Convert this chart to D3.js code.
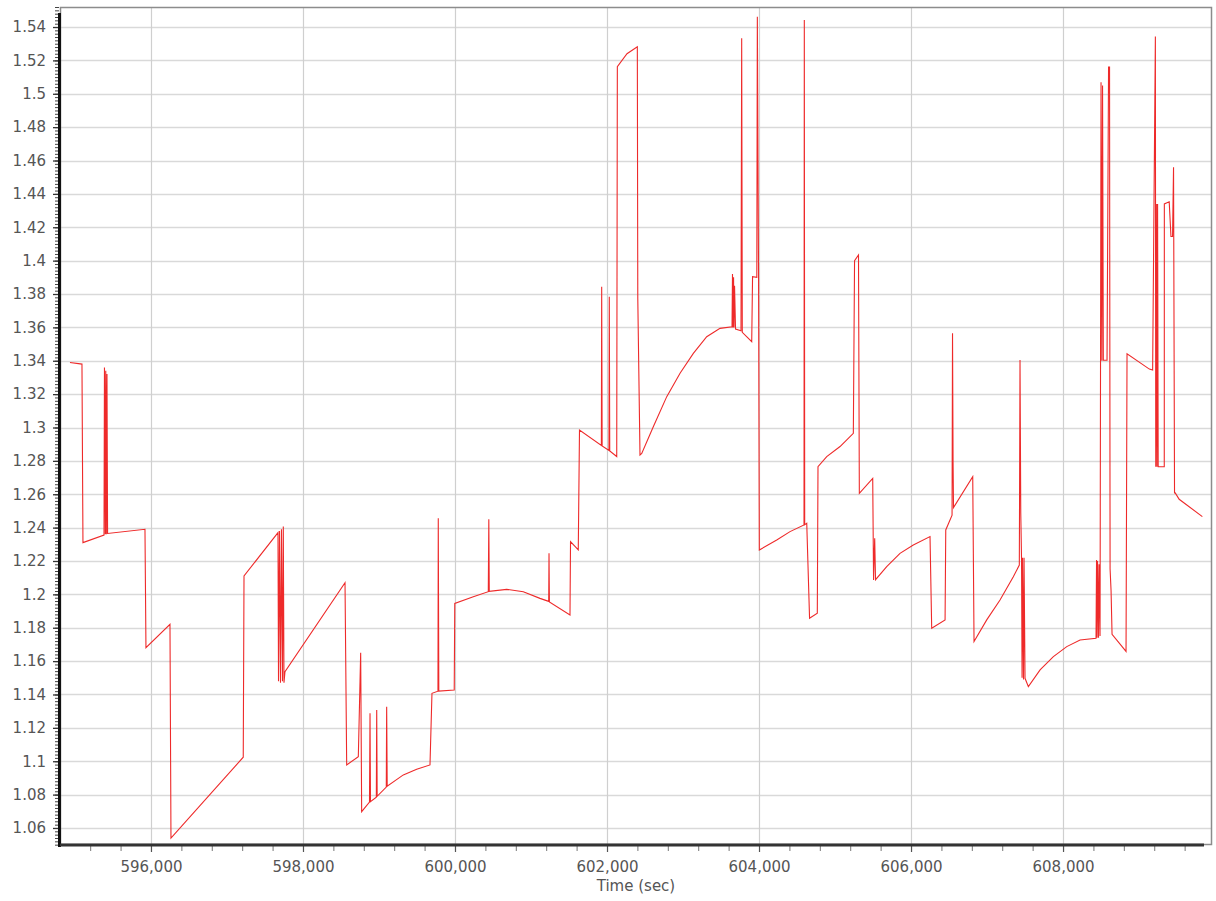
<!DOCTYPE html>
<html><head><meta charset="utf-8">
<script src="https://cdn.jsdelivr.net/npm/d3@7"></script>
<style>
body{margin:0;background:#fff;}
svg{display:block;}
text{font-family:"DejaVu Sans",Verdana,sans-serif;}
</style>
</head><body>
<svg id="chart" width="1216" height="901"></svg>
<script>
// ---- data ----
const timeSec = [
594934,595092,595105,595382,595388,595399,595405,595413,595421,595429,595921,595934,596250,596263,
597214,597224,597671,597678,597691,597704,597717,597730,597741,597750,597763,598553,598575,598728,
598759,598772,598875,598882,598888,598965,598970,598976,599096,599101,599108,599320,599496,599671,
599697,599776,599780,599787,599990,599997,600241,600438,600445,600451,600680,600899,601118,601233,
601237,601242,601513,601520,601622,601638,601926,601930,601936,602026,602030,602036,602128,602136,
602263,602399,602405,602434,602457,602609,602786,602961,603136,603312,603487,603645,603651,603658,
603665,603671,603678,603691,603763,603772,603780,603904,603915,603971,603978,603994,604004,604233,
604408,604592,604596,604601,604628,604665,604767,604776,604891,605066,605241,605257,605309,605320,
605496,605507,605522,605533,605680,605855,606030,606250,606272,606448,606457,606540,606546,606553,
606559,606812,606829,606996,607171,607346,607425,607434,607444,607454,607461,607467,607480,607487,
607500,607544,607698,607873,608049,608224,608434,608441,608448,608454,608467,608474,608487,608500,
608511,608520,608530,608579,608599,608612,608619,608632,608645,608829,608842,609136,609179,609215,
609220,609228,609236,609244,609252,609332,609333,609397,609420,609441,609454,609467,609476,609528,
609833];
const value = [
1.339,1.338,1.231,1.2355,1.336,1.236,1.334,1.236,1.332,1.2365,1.239,1.168,1.182,1.054,
1.1024,1.211,1.237,1.148,1.238,1.147,1.239,1.148,1.2406,1.147,1.1537,1.207,1.0978,1.1027,
1.165,1.0698,1.0755,1.1287,1.0758,1.0785,1.1307,1.079,1.0845,1.1327,1.085,1.0918,1.0952,1.0978,
1.1407,1.142,1.2456,1.142,1.1427,1.1946,1.1986,1.2016,1.245,1.2018,1.203,1.2016,1.1976,1.1958,
1.2246,1.1955,1.1877,1.2316,1.2266,1.2985,1.2892,1.3844,1.289,1.2862,1.3784,1.286,1.2826,1.5162,
1.524,1.5282,1.3774,1.2835,1.2845,1.3005,1.3185,1.3325,1.3444,1.3544,1.3594,1.3603,1.392,1.36,
1.39,1.36,1.385,1.359,1.358,1.5332,1.357,1.3514,1.3904,1.39,1.5462,1.3904,1.2266,1.2326,
1.2376,1.2416,1.5442,1.2418,1.2426,1.1857,1.1887,1.2765,1.2826,1.2886,1.2965,1.4,1.4034,1.2606,
1.2695,1.2086,1.2336,1.2088,1.2166,1.2246,1.2296,1.2346,1.1797,1.1846,1.2386,1.2475,1.3565,1.28,
1.252,1.2705,1.1717,1.1847,1.1966,1.2106,1.2176,1.3404,1.2488,1.2216,1.15,1.222,1.149,1.222,
1.1497,1.1447,1.1547,1.1627,1.1687,1.1727,1.1737,1.2206,1.174,1.22,1.174,1.218,1.175,1.5069,
1.34,1.505,1.3403,1.3403,1.516,1.516,1.2153,1.2022,1.176,1.1658,1.3442,1.335,1.3345,1.5343,
1.2765,1.434,1.2765,1.434,1.2765,1.2765,1.434,1.4353,1.4145,1.4145,1.456,1.2608,1.2608,1.257,
1.2466];
const xTickValues = [596000,598000,600000,602000,604000,606000,608000];
const yTickValues = [1.06,1.08,1.1,1.12,1.14,1.16,1.18,1.2,1.22,1.24,1.26,1.28,1.3,1.32,1.34,1.36,1.38,1.4,1.42,1.44,1.46,1.48,1.5,1.52,1.54];
const xAxisTitle = "Time (sec)";
const xDomain = [594803, 609960];
const yDomain = [1.0498, 1.552];

// ---- layout ----
const L = 60, R = 1212, T = 7, B = 845;
const svg = d3.select("#chart");
const x = d3.scaleLinear().domain(xDomain).range([L, R]);
const y = d3.scaleLinear().domain(yDomain).range([B, T]);

// background
svg.append("rect").attr("x",0).attr("y",0).attr("width",1216).attr("height",901).attr("fill","#fff");

// gridlines
const grid = svg.append("g");
grid.selectAll("line.h").data(yTickValues).join("line")
  .attr("x1",L).attr("x2",R).attr("y1",d=>Math.round(y(d))+0.5).attr("y2",d=>Math.round(y(d))+0.5)
  .attr("stroke","#d9d9d9").attr("stroke-width",1.5);
grid.selectAll("line.v").data(xTickValues).join("line")
  .attr("y1",T).attr("y2",B).attr("x1",d=>Math.round(x(d))+0.5).attr("x2",d=>Math.round(x(d))+0.5)
  .attr("stroke","#cfcfcf").attr("stroke-width",1.2);

// frame
svg.append("rect").attr("x",L+0.5).attr("y",T+0.5).attr("width",R-L-1).attr("height",B-T-1)
  .attr("fill","none").attr("stroke","#8c8c8c").attr("stroke-width",1.5);

// data line
svg.append("clipPath").attr("id","clip").append("rect")
  .attr("x",L).attr("y",T).attr("width",R-L).attr("height",B-T);
const pts = timeSec.map((t,i)=>[t,value[i]]);
svg.append("path").datum(pts)
  .attr("clip-path","url(#clip)")
  .attr("fill","none").attr("stroke","#ee2a2a").attr("stroke-width",1.1)
  .attr("stroke-linejoin","miter")
  .attr("d", d3.line().x(d=>x(d[0])).y(d=>y(d[1])));

// minor ticks
const yMinor = d3.range(1.05, 1.5521, 0.002);
svg.append("g").attr("transform",`translate(${L-1},0)`)
  .call(d3.axisLeft(y).tickValues(yMinor).tickSize(4).tickFormat(""))
  .call(g=>g.select(".domain").remove())
  .call(g=>g.selectAll("line").attr("stroke","#444").attr("stroke-width",1));
const xMinor = d3.range(595200, 609960, 400);
svg.append("g").attr("transform",`translate(0,${B+1})`)
  .call(d3.axisBottom(x).tickValues(xMinor).tickSize(5).tickFormat(""))
  .call(g=>g.select(".domain").remove())
  .call(g=>g.selectAll("line").attr("stroke","#777").attr("stroke-width",1));

// axes (major)
const fmtY = d => String(+d.toFixed(2));
const yAxis = svg.append("g").attr("transform",`translate(${L-1},0)`)
  .call(d3.axisLeft(y).tickValues(yTickValues).tickSize(6).tickPadding(7).tickFormat(fmtY));
yAxis.select(".domain").remove();
yAxis.selectAll("line").attr("stroke","#333").attr("stroke-width",1.3);
yAxis.selectAll("text").attr("fill","#555").attr("font-size",15)
  .attr("font-family","'DejaVu Sans',Verdana,sans-serif");

const xAxis = svg.append("g").attr("transform",`translate(0,${B+1})`)
  .call(d3.axisBottom(x).tickValues(xTickValues).tickSize(6).tickPadding(9).tickFormat(d3.format(",")));
xAxis.select(".domain").remove();
xAxis.selectAll("line").attr("stroke","#555").attr("stroke-width",1.2);
xAxis.selectAll("text").attr("fill","#555").attr("font-size",15)
  .attr("font-family","'DejaVu Sans',Verdana,sans-serif");

// thick axis lines
svg.append("line").attr("x1",L-0.5).attr("x2",L-0.5).attr("y1",T+6).attr("y2",B+2)
  .attr("stroke","#111").attr("stroke-width",3);
svg.append("line").attr("x1",L).attr("x2",R-8).attr("y1",B).attr("y2",B)
  .attr("stroke","#333").attr("stroke-width",3);

// axis title
svg.append("text").attr("x",(L+R)/2).attr("y",891).attr("text-anchor","middle")
  .attr("fill","#555").attr("font-size",15).text(xAxisTitle);
</script>
</body></html>
